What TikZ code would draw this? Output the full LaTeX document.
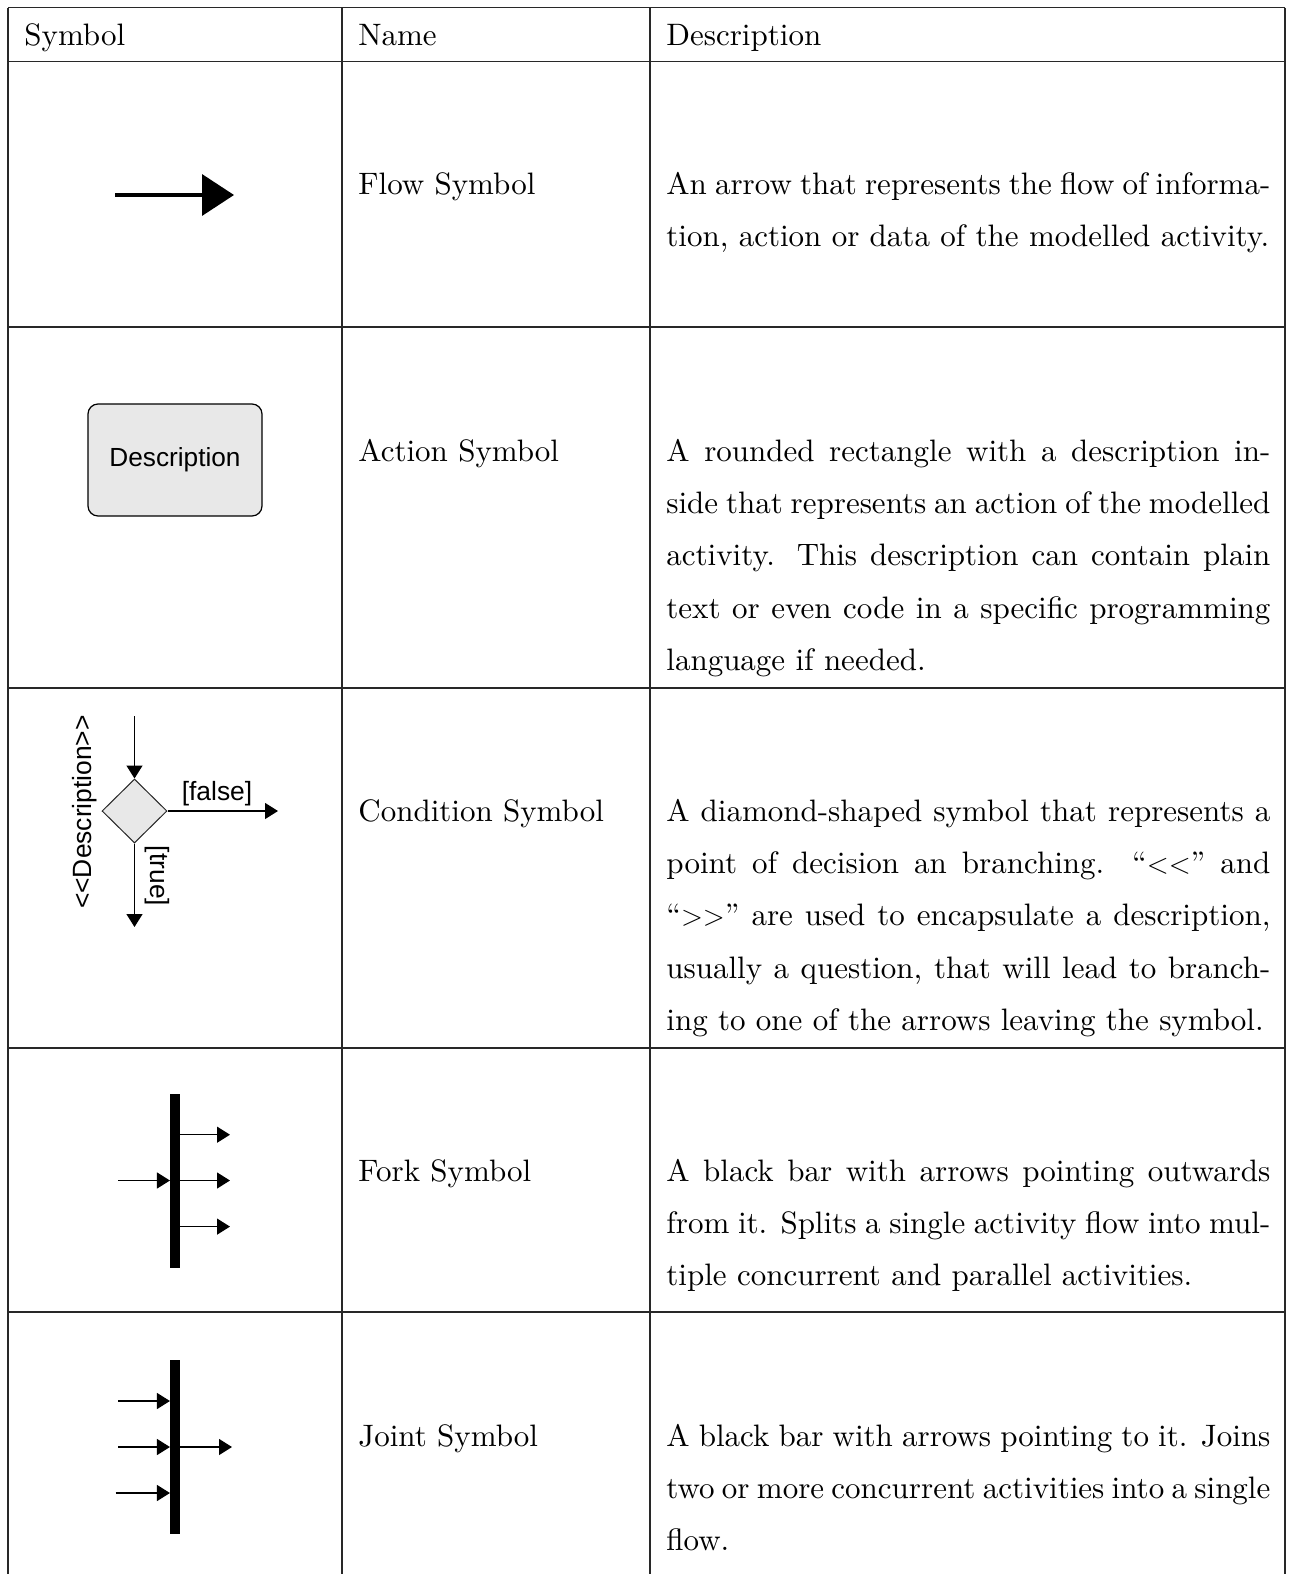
\documentclass[tikz,border=0pt]{standalone}
\usepackage{fontspec}
\usepackage{tikz}
\usetikzlibrary{shapes.geometric, arrows.meta, positioning}
\setmainfont{lmroman10-regular}[Extension=.otf]
\newfontfamily\diagfont{Liberation Sans}
\definecolor{actiongray}{RGB}{232, 232, 232}
\definecolor{rulegray}{RGB}{40, 40, 40}

\begin{document}
\begin{tikzpicture}[x=0.5pt, y=-0.5pt,
        % --- TikZ Styles ---
        rule/.style={draw=rulegray, line width=0.7pt},
        textcell/.style={anchor=base west, inner sep=0pt, font=\fontsize{15.5}{26.2}\selectfont},
        desccell/.style={textcell, text width=302pt, align=justify},
        actionbox/.style={
            draw, fill=actiongray, rounded corners=5pt, line width=0.6pt,
            minimum width=87pt, minimum height=56pt, inner sep=0pt,
            font=\diagfont\fontsize{13.1}{15}\selectfont
        },
        decision/.style={diamond, draw=black!85, fill=actiongray, line width=0.5pt,
            minimum width=32.5pt, minimum height=32pt, inner sep=0pt},
        symtext/.style={inner sep=0pt, font=\diagfont\fontsize{13.2}{15}\selectfont},
        barnode/.style={fill=black, minimum width=4.65pt, minimum height=87pt, inner sep=0pt},
        flowarrow/.style={line width=1.8pt, -{Triangle[length=16pt, width=20.5pt]}},
        smallarrow/.style={line width=0.65pt, -{Triangle[length=6.5pt, width=8pt]}}
    ]
    \useasboundingbox (0,0) rectangle (1293,1574);

    % --- TABLE RULES ---
    \foreach \ry in {7.5, 61.5, 327, 688, 1048, 1312}
        \draw[rule] (8,\ry) -- (1285,\ry);
    \foreach \rx in {8, 342, 650, 1285}
        \draw[rule] (\rx,7.5) -- (\rx,1574);

    % --- HEADER ---
    \node[textcell] (hsymbol) at (24,45) {Symbol};
    \node[textcell] (hname) at (358,45) {Name};
    \node[textcell] (hdesc) at (666,45) {Description};

    % --- 1. FLOW ---
    \coordinate (flowstart) at (115,195);
    \coordinate (flowend) at (234,195);
    \draw[flowarrow] (flowstart) -- (flowend);
    \node[textcell] (flowname) at (358,194) {Flow Symbol};
    \node[desccell] (flowdesc) at (666,194) {
        An arrow that represents the flow of informa-\linebreak
        tion, action or data of the modelled activity.
    };

    % --- 2. ACTION ---
    \node[actionbox] (action) at (175,460) {Description};
    \node[textcell] (actionname) at (358,461) {Action Symbol};
    \node[desccell] (actiondesc) at (666,461) {
        A rounded rectangle with a description in-\linebreak
        side that represents an action of the modelled\linebreak
        activity.  This description can contain plain\linebreak
        text or even code in a specific programming\linebreak
        language if needed.
    };

    % --- 3. CONDITION ---
    \node[decision] (cond) at (134.5,811) {};
    \coordinate (condin) at (134.5,716);
    \coordinate (condfalse) at (278,811);
    \coordinate (condtrue) at (134.5,927);
    \draw[smallarrow] (condin) -- (cond.north);
    \draw[smallarrow] (cond.east) -- (condfalse);
    \draw[smallarrow] (cond.south) -- (condtrue);
    \node[symtext] (falselbl) at (217,794) {[false]};
    \node[symtext, rotate=-90] (truelbl) at (157,876) {[true]};
    \node[symtext, rotate=90] (condlbl) at (85,812) {<<Description>>};
    \node[textcell] (condname) at (358,821) {Condition Symbol};
    \node[desccell] (conddesc) at (666,821) {
        A diamond-shaped symbol that represents a\linebreak
        point of decision an branching.  ``$<<$'' and\linebreak
        ``$>>$'' are used to encapsulate a description,\linebreak
        usually a question, that will lead to branch-\linebreak
        ing to one of the arrows leaving the symbol.
    };

    % --- 4. FORK ---
    \node[barnode] (fork) at (175,1180.5) {};
    \coordinate (forkin) at (118,1180.5);
    \coordinate (forkout1) at (230,1134.7);
    \coordinate (forkout2) at (230,1180.5);
    \coordinate (forkout3) at (230,1226.6);
    \draw[smallarrow] (forkin) -- (forkin -| fork.west);
    \draw[smallarrow] (forkout1 -| fork.east) -- (forkout1);
    \draw[smallarrow] (forkout2 -| fork.east) -- (forkout2);
    \draw[smallarrow] (forkout3 -| fork.east) -- (forkout3);
    \node[textcell] (forkname) at (358,1181) {Fork Symbol};
    \node[desccell] (forkdesc) at (666,1181) {
        A black bar with arrows pointing outwards\linebreak
        from it.  Splits a single activity flow into mul-\linebreak
        tiple concurrent and parallel activities.
    };

    % --- 5. JOINT ---
    \node[barnode] (joint) at (175,1447) {};
    \coordinate (jointin1) at (118,1401);
    \coordinate (jointin2) at (118,1447);
    \coordinate (jointin3) at (115.5,1493);
    \coordinate (jointout) at (232,1447);
    \draw[smallarrow] (jointin1) -- (jointin1 -| joint.west);
    \draw[smallarrow] (jointin2) -- (jointin2 -| joint.west);
    \draw[smallarrow] (jointin3) -- (jointin3 -| joint.west);
    \draw[smallarrow] (jointout -| joint.east) -- (jointout);
    \node[textcell] (jointname) at (358,1446) {Joint Symbol};
    \node[desccell] (jointdesc) at (666,1446) {
        A black bar with arrows pointing to it.  Joins\linebreak
        two or more concurrent activities into a single\linebreak
        flow.
    };

\end{tikzpicture}
\end{document}
